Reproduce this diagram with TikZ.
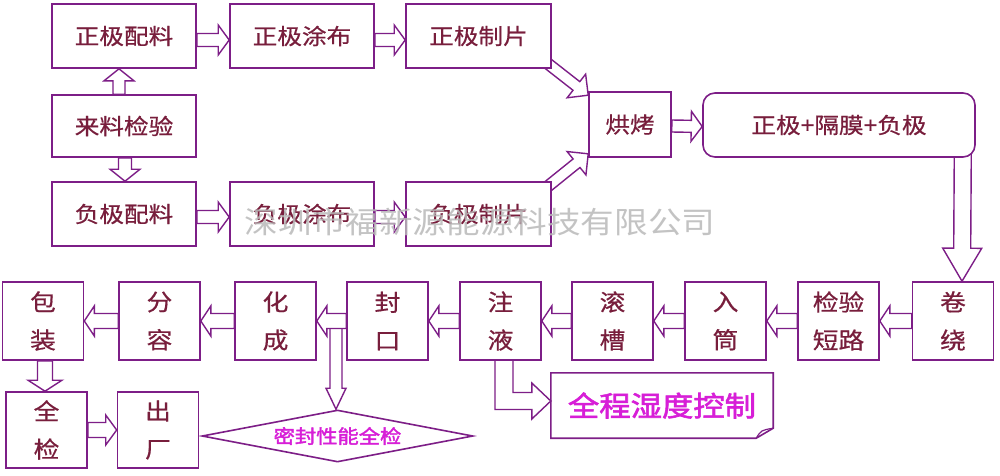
\documentclass[tikz,border=0pt]{standalone}
\usepackage{fontspec}
\usetikzlibrary{calc,shapes.geometric}
\newfontfamily\cjk[FakeStretch=1.12,FakeBold=0.6]{Noto Sans CJK SC}
\newfontfamily\cjkwm[FakeStretch=1.12]{Noto Sans CJK SC}
\newfontfamily\cjkbold[FakeStretch=1.12,FakeBold=2]{Noto Sans CJK SC}
\definecolor{pur}{RGB}{125,30,135}
\definecolor{txt}{RGB}{120,30,60}
\definecolor{mag}{RGB}{215,30,215}
\definecolor{wm}{RGB}{185,185,185}
\pgfdeclarelayer{bg}
\pgfsetlayers{bg,main}
\tikzset{
  box/.style={draw=pur, line width=1.6pt, fill=white, inner sep=0pt, text=txt,
    font=\cjk\fontsize{22}{38}\selectfont, align=center},
  wbox/.style={box, minimum width=144pt, minimum height=64pt},
  sbox/.style={box, minimum width=81pt, minimum height=78pt, font=\cjk\fontsize{23}{38}\selectfont},
  blk/.style={draw=pur, line width=1.4pt, fill=white, line join=miter},
}
\newcommand{\barrow}[5]{%
  \coordinate (bt) at #1;
  \coordinate (bp) at #2;
  \coordinate (bh) at ($(bp)!#5!(bt)$);
  \filldraw[blk] ($(bt)!#3!90:(bp)$) -- ($(bh)!#3!-90:(bt)$) -- ($(bh)!#4!-90:(bt)$) -- (bp)
    -- ($(bh)!#4!90:(bt)$) -- ($(bh)!#3!90:(bt)$) -- ($(bt)!#3!-90:(bp)$) -- cycle;
}
\begin{document}
\begin{tikzpicture}[x=1pt,y=-1pt]
\useasboundingbox (0,0) rectangle (1000,475);
% boxes
\node[wbox] (zpl) at (124,36) {正极配料};
\node[wbox] (ztb) at (302,36) {正极涂布};
\node[wbox, minimum width=145pt] (zzp) at (478.5,36) {正极制片};
\node[wbox, minimum height=62pt] (ljy) at (124,126) {来料检验};
\node[wbox] (fpl) at (124,214) {负极配料};
\node[wbox] (ftb) at (302,214) {负极涂布};
\node[wbox, minimum width=145pt] (fzp) at (478.5,214) {负极制片};
\node[box, minimum width=82pt, minimum height=65pt] (hk) at (630,124.5) {烘烤};
\node[box, rounded corners=12pt, minimum width=272pt, minimum height=64pt] (zgf) at (839,125) {正极+隔膜+负极};
\node[sbox] (bz) at (43,321) {包\\装};
\node[sbox] (fr) at (159.5,321) {分\\容};
\node[sbox] (hc) at (275.5,321) {化\\成};
\node[sbox] (fk) at (387.5,321) {封\\口};
\node[sbox] (zy) at (500.5,321) {注\\液};
\node[sbox] (gc) at (612.5,321) {滚\\槽};
\node[sbox] (rt) at (725.5,321) {入\\筒};
\node[sbox] (jd) at (838.5,321) {检验\\短路};
\node[sbox] (jr) at (953,321) {卷\\绕};
\node[sbox, minimum height=76pt] (qj) at (46.5,430) {全\\检};
\node[sbox, minimum height=76pt] (cc) at (158,430) {出\\厂};
\node[diamond, draw=pur, line width=1.6pt, fill=white, inner sep=0pt, aspect=5,
  minimum width=271pt, minimum height=52pt, text=mag,
  font=\cjkbold\fontsize{19}{19}\selectfont] (dia) at (337.5,436) {密封性能全检};
\node[minimum width=222pt, minimum height=65pt, inner sep=0pt, text=mag,
  font=\cjkbold\fontsize{28}{28}\selectfont] (note) at (662,405.5) {全程湿度控制};
\draw[pur, line width=1.6pt, line join=miter] (note.north west) -- (note.north east)
  -- ($(note.south east)+(0,-10)$) -- ($(note.south east)+(-17,0)$) -- (note.south west) -- cycle;
\draw[pur, line width=1.2pt] ($(note.south east)+(-17,0)$) .. controls ($(note.south east)+(-12,-8)$) .. ($(note.south east)+(0,-10)$);
% arrows on background
\begin{pgfonlayer}{bg}
\fill[white] (0,0) rectangle (1000,475);
\barrow{($(zpl.east)+(0,4)$)}{($(ztb.west)+(0,4)$)}{6.5pt}{15pt}{11pt}
\barrow{($(ztb.east)+(0,4)$)}{($(zzp.west)+(0,4)$)}{6.5pt}{15pt}{11pt}
\barrow{($(fpl.east)+(0,3)$)}{($(ftb.west)+(0,3)$)}{6.5pt}{15pt}{11pt}
\barrow{($(ftb.east)+(0,3)$)}{($(fzp.west)+(0,3)$)}{6.5pt}{15pt}{11pt}
\barrow{($(ljy.north)+(-5,0)$)}{($(zpl.south)+(-5,0)$)}{6pt}{15pt}{12pt}
\barrow{($(ljy.south)+(1,0)$)}{($(fpl.north)+(1,0)$)}{6.5pt}{15pt}{12pt}
\barrow{($(zzp.south east)+(-5,-6)$)}{($(hk.north west)+(0,4)$)}{5.5pt}{15pt}{15pt}
\barrow{($(fzp.north east)+(-5,6)$)}{($(hk.south west)+(0,-4)$)}{5.5pt}{15pt}{15pt}
\barrow{($(hk.east)+(0,1.5)$)}{($(zgf.west)+(0,1.5)$)}{6pt}{15pt}{11pt}
\barrow{($(zgf.south east)+(-13,-8)$)}{($(jr.north)+(9,0)$)}{8.5pt}{19.5pt}{33pt}
\barrow{(jr.west)}{(jd.east)}{7.5pt}{15pt}{10pt}
\barrow{(jd.west)}{(rt.east)}{7.5pt}{15pt}{10pt}
\barrow{(rt.west)}{(gc.east)}{7.5pt}{15pt}{10pt}
\barrow{(gc.west)}{(zy.east)}{7.5pt}{15pt}{10pt}
\coordinate (dtail) at ($(dia.north)+(-1.5,-90)$);
\barrow{(dtail)}{($(dia.north)+(-1.5,0)$)}{6pt}{10pt}{21pt}
\barrow{(zy.west)}{(fk.east)}{7.5pt}{15pt}{10pt}
\barrow{(fk.west)}{(hc.east)}{7.5pt}{15pt}{10pt}
\barrow{(hc.west)}{(fr.east)}{7.5pt}{15pt}{10pt}
\barrow{(fr.west)}{(bz.east)}{7.5pt}{15pt}{10pt}
\barrow{($(bz.south)+(2,0)$)}{($(qj.north)+(-1.5,0)$)}{7.5pt}{17pt}{11pt}
\barrow{(qj.east)}{(cc.west)}{7.5pt}{15pt}{11pt}
% L-shaped arrow from 注液 to note
\coordinate (lt) at ($(note.west)+(0,-4.5)$);
\coordinate (la) at ($(zy.south)+(-5.5,-4)$);
\coordinate (lb) at ($(zy.south)+(12.5,-4)$);
\coordinate (lo) at ($(lt)+(0,8.5)$);
\coordinate (li) at ($(lt)+(0,-8.5)$);
\coordinate (lhb) at ($(lt)+(-19,18)$);
\coordinate (lht) at ($(lt)+(-19,-18)$);
\filldraw[blk] (la) -- (la |- lo) -- (lhb |- lo) -- (lhb) -- (lt) -- (lht)
  -- (lht |- li) -- (lb |- li) -- (lb);
\end{pgfonlayer}
% watermark
\node[text=wm, opacity=0.85, inner sep=0pt, font=\cjkwm\fontsize{30}{30}\selectfont] (wmk) at (480,222) {深圳市福新源能源科技有限公司};
\end{tikzpicture}
\end{document}
